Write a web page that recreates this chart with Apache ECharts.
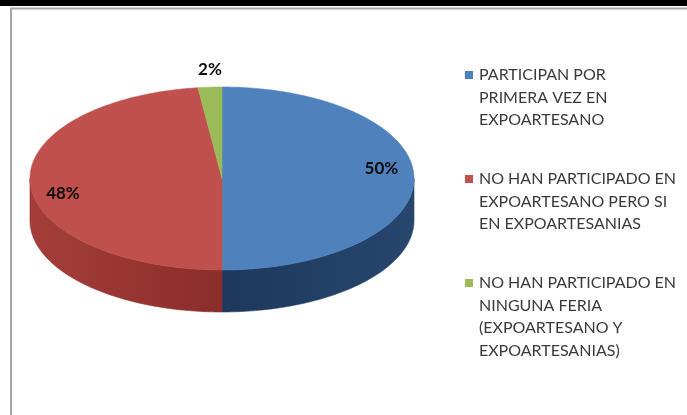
<!DOCTYPE html>
<html>
<head>
<meta charset="utf-8">
<script src="https://cdn.jsdelivr.net/npm/echarts@6/dist/echarts.min.js"></script>
<style>
html,body{margin:0;padding:0;background:#fff}
#chart{width:687px;height:415px}
</style>
</head>
<body>
<div id="chart"></div>
<script>
// datos del grafico
var categories = [
	'PARTICIPAN POR\nPRIMERA VEZ EN\nEXPOARTESANO',
	'NO HAN PARTICIPADO EN\nEXPOARTESANO PERO SI\nEN EXPOARTESANIAS',
	'NO HAN PARTICIPADO EN\nNINGUNA FERIA\n(EXPOARTESANO Y\nEXPOARTESANIAS)'
];
var values = [50, 48, 2];
var topColors = ['#4F81BD', '#C0504D', '#9BBB59'];
var sideColors = [['#1E385B', '#27466E'], ['#A53E3B', '#8A2D2B'], ['#7A9444', '#6B833A']];

var total = 0;
for (var k = 0; k < values.length; k++) {
	total += values[k];
}

// geometria del pastel 3D
var cx = 222, cy = 178.5, rx = 192, ry = 91.5, depth = 42;
var labelDy = [-10, 10, 0];

function pt(deg, dy) {
	var r = deg * Math.PI / 180;
	return [cx + rx * Math.sin(r), cy - ry * Math.cos(r) + (dy || 0)];
}
function arc(a, b, dy) {
	var pts = [];
	var n = Math.max(2, Math.ceil(Math.abs(b - a)));
	for (var j = 0; j <= n; j++) {
		pts.push(pt(a + (b - a) * j / n, dy));
	}
	return pts;
}

function renderSlice(params, api) {
	var i = params.seriesIndex;
	var before = 0;
	for (var k = 0; k < i; k++) before += values[k];
	var v = api.value(0);
	var start = before / total * 360;
	var end = start + v / total * 360;
	var children = [];
	// lado visible (frente)
	var a = Math.max(start, 90), b = Math.min(end, 270);
	if (b > a) {
		var sideFill = new echarts.graphic.LinearGradient(0, 0, 1, 0, [
			{offset: 0, color: sideColors[i][0]},
			{offset: 1, color: sideColors[i][1]}
		]);
		children.push({
			type: 'polygon',
			shape: {points: arc(a, b, 0).concat(arc(b, a, depth))},
			style: {fill: sideFill, stroke: sideColors[i][1], lineWidth: 0.6}
		});
	}
	// cara superior
	children.push({
		type: 'polygon',
		shape: {points: [[cx, cy]].concat(arc(start, end, 0))},
		style: {fill: topColors[i], stroke: topColors[i], lineWidth: 0.6}
	});
	// etiqueta
	var mid = (start + end) / 2, lp;
	if (end - start < 18) {
		lp = pt(mid, 0);
		lp[1] -= 18;
	} else {
		var r = mid * Math.PI / 180;
		lp = [cx + rx * 0.83 * Math.sin(r), cy - ry * 0.83 * Math.cos(r) + labelDy[i]];
	}
	children.push({
		type: 'text',
		style: {
			text: Math.round(v / total * 100) + '%',
			x: lp[0], y: lp[1],
			align: 'center', verticalAlign: 'middle',
			fill: '#0d0d0d',
			font: 'bold 17px Lato, sans-serif'
		}
	});
	return {type: 'group', children: children};
}

var rich = {
	t: {fontSize: 16, fontFamily: 'Lato', color: '#3a3a3a', lineHeight: 22.5},
	g: {width: 6, lineHeight: 22.5},
	sp: {width: 14, lineHeight: 22.5}
};
for (var m = 0; m < topColors.length; m++) {
	rich['m' + m] = {width: 8, height: 8, backgroundColor: topColors[m]};
}

var series = [];
for (var s = 0; s < values.length; s++) {
	series.push({
		name: categories[s],
		type: 'custom',
		coordinateSystem: 'none',
		itemStyle: {color: topColors[s]},
		renderItem: renderSlice,
		data: [[values[s]]]
	});
}

var chart = echarts.init(document.getElementById('chart'));
var option = {
	animation: false,
	backgroundColor: '#fff',
	graphic: [
		{type: 'rect', shape: {x: 0, y: 0, width: 687, height: 6}, style: {fill: '#000'}, silent: true},
		{type: 'polyline', shape: {points: [[11, 415], [11, 8.5], [687, 8.5]]}, style: {stroke: '#A8A8A8', lineWidth: 2, fill: null}, silent: true}
	],
	legend: {
		orient: 'vertical',
		left: 460,
		top: 67,
		padding: 0,
		itemWidth: 0,
		itemHeight: 0,
		itemGap: 43,
		selectedMode: false,
		data: categories,
		formatter: function (name) {
			var idx = categories.indexOf(name);
			var lines = name.split('\n');
			var str = '{m' + idx + '|}{g|}{t|' + lines[0] + '}';
			for (var j = 1; j < lines.length; j++) {
				str += '\n{sp|}{t|' + lines[j] + '}';
			}
			return str;
		},
		textStyle: {rich: rich}
	},
	series: series
};
chart.setOption(option);
</script>
</body>
</html>
